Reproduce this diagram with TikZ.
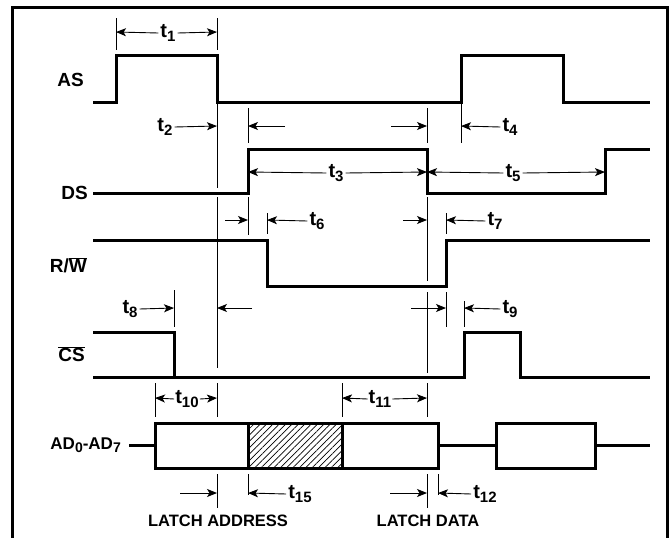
\documentclass[tikz,border=0pt]{standalone}
\usepackage{fontspec}
\setmainfont{Liberation Sans}
\usetikzlibrary{arrows.meta,patterns.meta}

\newcommand{\tsub}[1]{\raisebox{-0.4ex}{\fontsize{15}{15}\selectfont #1}}
\newcommand{\asub}[1]{\raisebox{-0.35ex}{\fontsize{14}{14}\selectfont #1}}
\newcommand{\ovl}[1]{\ensuremath{\overline{\mbox{#1}}}}

\begin{document}
\begin{tikzpicture}[
    x=1pt, y=-1pt,
    sig/.style={line width=3pt, line join=miter},
    ref/.style={line width=0.9pt},
    dim/.style={-{Stealth[length=10pt,width=8pt,inset=2.5pt]}, line width=0.9pt},
    tlab/.style={font=\fontsize{20}{20}\selectfont\bfseries, inner sep=2pt},
    sigl/.style={font=\fontsize{19}{20}\selectfont\bfseries, anchor=east, inner sep=0pt},
    latch/.style={font=\fontsize{16.5}{18}\selectfont\bfseries, inner sep=0pt}
]
    \useasboundingbox (0,0) rectangle (670,538);

    % Frame
    \draw[line width=3pt] (12,538) -- (12,7) -- (667,7) -- (667,538);

    % Signal names
    \node[sigl] (as) at (84,80) {AS};
    \node[sigl] (ds) at (88,193) {DS};
    \node[sigl] (rw) at (87,265) {R/\ovl{W}};
    \node[sigl] (cs) at (85,354) {\ovl{CS}};
    \node[sigl, font=\fontsize{17}{18}\selectfont\bfseries] (ad) at (121,445) {AD\asub{0}-AD\asub{7}};

    % Waveforms
    \draw[sig] (93,102) -- (116,102) -- (116,55) -- (217,55) -- (217,102) -- (461,102)
        -- (461,55) -- (563,55) -- (563,102) -- (650,102);
    \draw[sig] (93,193) -- (248,193) -- (248,149) -- (427,149) -- (427,193) -- (605,193)
        -- (605,149) -- (650,149);
    \draw[sig] (93,240) -- (267,240) -- (267,286) -- (446,286) -- (446,240) -- (650,240);
    \draw[sig] (93,332) -- (174,332) -- (174,377);
    \draw[sig] (93,377) -- (464,377) -- (464,332) -- (520,332) -- (520,377) -- (650,377);

    % Bus
    \fill[pattern={Lines[angle=45,distance=4.5pt,line width=0.7pt]}] (248,423) rectangle (342,468);
    \draw[sig] (129,445) -- (155,445);
    \draw[sig] (155,423) rectangle (438,468);
    \draw[sig] (248,423) -- (248,468);
    \draw[sig] (342,423) -- (342,468);
    \draw[sig] (438,445) -- (496,445);
    \draw[sig] (496,423) rectangle (595,468);
    \draw[sig] (595,445) -- (650,445);

    % Reference lines
    \draw[ref] (116,18) -- (116,50);
    \draw[ref] (217,18) -- (217,50);
    \draw[ref] (217,104) -- (217,188) (217,197) -- (217,368) (217,383) -- (217,417) (217,474) -- (217,508);
    \draw[ref] (248,108) -- (248,143) (248,197) -- (248,235) (248,474) -- (248,495);
    \draw[ref] (427,108) -- (427,143) (427,197) -- (427,281) (427,292) -- (427,373)
        (427,383) -- (427,417) (427,474) -- (427,508);
    \draw[ref] (461,104) -- (461,143);
    \draw[ref] (267,213) -- (267,234);
    \draw[ref] (446,213) -- (446,234) (446,292) -- (446,327);
    \draw[ref] (174,290) -- (174,327);
    \draw[ref] (464,301) -- (464,327);
    \draw[ref] (155,383) -- (155,417);
    \draw[ref] (342,383) -- (342,417);
    \draw[ref] (438,474) -- (438,495);

    % Timing labels
    \node[tlab] (t1) at (168,33) {t\tsub{1}};
    \draw[dim] (t1.west) -- (116,32);
    \draw[dim] (t1.east) -- (217,32);

    \node[tlab] (t2) at (165,127) {t\tsub{2}};
    \draw[dim] (t2.east) -- (217,126);
    \draw[dim] (285,126) -- (248,126);

    \node[tlab] (t3) at (336,173) {t\tsub{3}};
    \draw[dim] (t3.west) -- (248,172);
    \draw[dim] (t3.east) -- (427,172);

    \node[tlab] (t4) at (510,127) {t\tsub{4}};
    \draw[dim] (391,126) -- (427,126);
    \draw[dim] (t4.west) -- (461,126);

    \node[tlab] (t5) at (513,173) {t\tsub{5}};
    \draw[dim] (t5.west) -- (427,172);
    \draw[dim] (t5.east) -- (605,172);

    \node[tlab] (t6) at (317,221) {t\tsub{6}};
    \draw[dim] (225,220) -- (248,220);
    \draw[dim] (t6.west) -- (267,220);

    \node[tlab] (t7) at (495,221) {t\tsub{7}};
    \draw[dim] (403,220) -- (427,220);
    \draw[dim] (t7.west) -- (446,220);

    \node[tlab] (t8) at (130,309) {t\tsub{8}};
    \draw[dim] (t8.east) -- (174,308);
    \draw[dim] (252,308) -- (217,308);

    \node[tlab] (t9) at (510,309) {t\tsub{9}};
    \draw[dim] (411,308) -- (446,308);
    \draw[dim] (t9.west) -- (464,308);

    \node[tlab, inner sep=1pt] (t10) at (187,399) {t\tsub{10}};
    \draw[dim] (t10.west) -- (155,398);
    \draw[dim] (t10.east) -- (217,398);

    \node[tlab, inner sep=1pt] (t11) at (380,399) {t\tsub{11}};
    \draw[dim] (t11.west) -- (342,398);
    \draw[dim] (t11.east) -- (427,398);

    \node[tlab] (t15) at (300,494) {t\tsub{15}};
    \draw[dim] (180,493) -- (217,493);
    \draw[dim] (t15.west) -- (248,493);

    \node[tlab] (t12) at (485,494) {t\tsub{12}};
    \draw[dim] (390,493) -- (427,493);
    \draw[dim] (t12.west) -- (438,493);

    % Latch points
    \node[latch] (la) at (218,521) {LATCH ADDRESS};
    \node[latch] (ld) at (428,521) {LATCH DATA};

\end{tikzpicture}
\end{document}
